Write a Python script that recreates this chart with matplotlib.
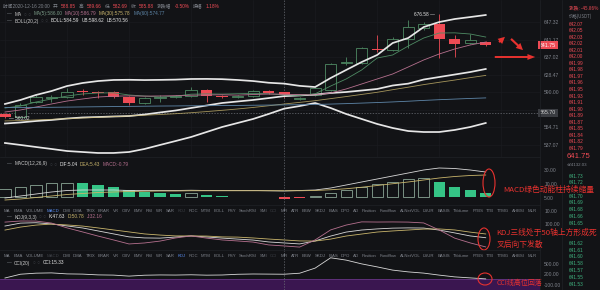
"""
Captura de gráfico de velas estilo exchange (K-line + MACD + KDJ + CCI)
Saída: out.png (600x290)
"""

import numpy as np
import matplotlib.pyplot as plt
from matplotlib.patches import Ellipse, FancyArrowPatch
from matplotlib.transforms import blended_transform_factory

W, H = 600, 290

COR = {
    "fundo":   "#121316",
    "grade":   "#1b1d21",
    "texto":   "#7f838b",
    "apagado": "#3c3f45",
    "verm":    "#ee4b55",
    "verde":   "#4e8a63",
    "verde2":  "#35c486",
    "branco":  "#e6e6e6",
    "amarelo": "#c9b56c",
    "rosa":    "#b5708e",
    "azul":    "#5e86a8",
    "azul_tab": "#5a8dee",
    "anot":    "#e8322f",
    "cci_faixa": "#3a1650",
}

plt.rcParams.update({
    "font.family": ["Liberation Sans", "Noto Sans CJK SC", "DejaVu Sans"],
    "figure.facecolor": COR["fundo"],
    "savefig.facecolor": COR["fundo"],
})

# ── dados (velas) ────────────────────────────────────────────────────────────
OPEN = [564.58, 561.22, 578.02, 582.50, 583.62, 590.34, 589.22, 589.22, 583.62, 576.90,
        582.50, 583.62, 584.74, 591.46, 584.74, 583.62, 584.74, 590.34, 588.85, 581.38,
        585.86, 591.46, 621.70, 621.70, 637.38, 636.26, 648.58, 660.90, 665.38, 648.58,
        644.10, 645.22]
CLOSE = [561.22, 574.66, 583.62, 583.62, 589.22, 589.22, 588.10, 583.62, 576.90, 582.50,
         583.62, 584.74, 591.46, 584.74, 583.62, 584.74, 590.34, 588.10, 585.88, 582.50,
         593.70, 620.58, 622.82, 638.50, 636.26, 648.58, 662.02, 665.38, 648.58, 642.98,
         647.46, 641.75]
HIGH = [565.70, 576.90, 585.86, 585.86, 593.70, 592.58, 589.90, 590.34, 584.74, 583.62,
        585.86, 585.86, 594.82, 592.58, 585.86, 585.86, 591.46, 591.46, 589.66, 583.62,
        594.82, 621.70, 628.42, 639.62, 653.06, 650.82, 669.86, 667.62, 676.58, 653.06,
        654.18, 646.34]
LOW = [560.02, 560.66, 576.90, 578.02, 582.50, 585.86, 582.50, 582.50, 574.66, 575.78,
       578.02, 582.50, 583.62, 578.02, 582.50, 582.50, 583.62, 586.98, 582.69, 580.26,
       584.74, 590.34, 619.46, 620.58, 634.02, 635.14, 638.50, 658.66, 627.30, 627.90,
       643.50, 640.74]

# médias móveis e bandas de Bollinger
MA5 = [571.3, 573.5, 578.0, 581.4, 584.7, 587.0, 588.1, 588.3, 585.9, 584.7, 583.6, 584.5,
       586.8, 587.1, 586.9, 587.3, 587.6, 587.2, 586.0, 585.4, 587.2, 595.9, 603.8, 613.9,
       627.3, 630.7, 640.7, 649.7, 655.3, 655.5, 654.2, 650.8]
MA10 = [566.8, 569.1, 572.4, 575.8, 579.1, 581.4, 583.6, 584.5, 584.9, 584.6, 584.8, 585.1,
        585.6, 585.9, 586.1, 585.7, 586.4, 587.0, 586.79, 586.2, 586.0, 588.1, 592.6, 598.2,
        603.8, 609.4, 617.2, 625.1, 631.8, 637.4, 641.9, 645.2]
MA30 = [556.8, 557.2, 558.0, 558.6, 559.4, 560.1, 560.9, 561.6, 562.4, 563.2, 564.0, 564.9,
        566.0, 567.3, 568.7, 570.2, 571.9, 573.8, 575.78, 577.6, 579.5, 581.8, 584.1, 586.5,
        588.9, 591.8, 594.6, 597.5, 600.1, 602.6, 605.3, 607.8]
MA60 = [571.8, 571.9, 572.0, 572.1, 572.3, 572.5, 572.7, 572.9, 573.1, 573.3, 573.5, 573.6,
        573.8, 573.9, 574.1, 574.2, 574.4, 574.6, 574.77, 575.0, 575.3, 575.7, 576.2, 576.8,
        577.4, 578.1, 578.9, 579.8, 580.6, 581.3, 582.0, 582.6]
BOLL_UB = [575.8, 580.3, 585.9, 590.3, 595.9, 599.3, 601.5, 602.7, 602.9, 602.6, 602.8, 603.1,
           603.8, 603.9, 603.6, 602.7, 601.5, 599.6, 598.62, 596.1, 594.8, 604.9, 613.9, 622.8,
           630.7, 644.1, 649.7, 662.0, 667.6, 671.0, 673.2, 675.5]
BOLL_MID = [553.9, 555.1, 556.7, 557.9, 559.5, 560.7, 561.2, 561.8, 562.3, 564.0, 566.3, 568.5,
            571.3, 574.1, 576.9, 578.6, 580.3, 582.4, 584.59, 585.4, 586.3, 588.1, 589.2, 590.9,
            592.6, 596.5, 598.6, 603.2, 606.0, 608.8, 611.6, 615.0]
BOLL_LB = [532.1, 529.9, 527.6, 525.4, 523.1, 522.0, 520.9, 520.9, 522.0, 525.4, 529.9, 534.3,
           538.8, 544.4, 550.0, 554.5, 559.0, 564.6, 570.56, 573.5, 576.9, 571.3, 564.6, 559.0,
           553.4, 548.9, 545.5, 544.4, 544.4, 546.7, 550.0, 554.5]

# MACD
MACD_HIST = [3.2, 4.0, 4.8, 5.6, 5.8, 5.6, 4.8, 4.0, 2.8, 2.0, 1.6, 1.2, 1.6, 0.8, 0.4, 0.2,
             0.16, 0.12, -0.8, -0.4, 0.4, 1.6, 2.8, 4.0, 5.2, 6.0, 7.2, 7.6, 6.0, 4.0, 2.8, 1.6]
MACD_DIF = [-0.4, 0.4, 1.2, 2.0, 2.6, 2.8, 2.8, 2.8, 2.6, 2.6, 2.6, 2.6, 2.7, 2.6, 2.6, 2.6,
            2.6, 2.5, 2.4, 2.6, 2.8, 3.6, 4.8, 6.0, 7.2, 8.4, 9.6, 10.8, 11.6, 11.4, 10.8, 10.0]
MACD_DEA = [-1.2, -0.8, -0.2, 0.4, 1.0, 1.4, 1.8, 2.0, 2.2, 2.3, 2.4, 2.4, 2.5, 2.5, 2.5, 2.5,
            2.5, 2.5, 2.5, 2.5, 2.6, 2.9, 3.3, 3.9, 4.6, 5.3, 6.0, 6.8, 7.6, 8.2, 8.6, 8.8]

# KDJ
KDJ_K = [86.5, 96.2, 97.5, 93.4, 86.8, 80.1, 70.2, 60.3, 50.4, 46.9, 46.2, 49.8, 53.6, 50.1,
         46.4, 43.0, 39.8, 33.5, 30.2, 26.9, 36.8, 53.1, 66.4, 73.2, 76.9, 79.5, 80.3, 79.8,
         73.0, 63.6, 53.5, 47.6]
KDJ_D = [73.1, 83.0, 89.6, 93.0, 90.1, 86.4, 80.2, 73.5, 66.9, 60.2, 56.4, 53.6, 53.5, 53.1,
         50.3, 49.6, 46.8, 43.2, 40.1, 36.9, 36.5, 43.0, 53.2, 59.8, 66.5, 70.1, 73.2, 76.3,
         76.8, 73.4, 66.2, 60.1]
KDJ_J = [99.6, 103.2, 103.0, 96.4, 80.4, 66.9, 53.1, 40.2, 26.8, 30.1, 36.4, 46.8, 53.5, 46.3,
         40.2, 36.8, 33.1, 23.6, 20.2, 16.4, 40.3, 73.6, 89.7, 100.3, 99.8, 100.1, 99.6, 96.8,
         73.4, 46.2, 30.3, 16.9]

# CCI
CCI = [118, 186, 205, 210, 192, 188, 174, 170, 152, 168, 173, 171, 176, 169, 172, 185, 190,
       188, 186, 204, 296, 482, 440, 372, 318, 260, 228, 206, 170, 138, 120, 102]

CROSS_I = 18          # vela sob a mira
CROSS_PRICE = 565.70

# rótulos de eixo (como aparecem na captura)
MAIN_TICKS = ["647.32", "641.17", "637.02", "628.47", "590.00", "", "554.71", "537.07"]
MACD_TICKS = ["30.00", "10.00", "5.00"]
KDJ_TICKS = ["10.00", "100.00"]
CCI_TICKS = ["500.00", "200.00", "-100.00"]

MACD_HEAD = ["DIF:5.04", "DEA:5.43", "MACD:-0.79"]
KDJ_HEAD = ["K:47.63", "D:50.78", "J:32.16"]
CCI_HEAD = ["CCI:15.33"]

TAB_NAMES = ["MA", "EMA", "VOLUME", "MACD", "DMI", "DMA", "TRIX", "BRAR", "VR", "OBV", "EMV",
             "RSI", "WR", "SAR", "KDJ", "ROC", "MTM", "BOLL", "PSY", "StochRSI", "SMI", "CCI",
             "MFI", "ATR", "BBW", "SKDJ", "BIAS", "DPO", "AO", "Position", "Fundflow",
             "AI-NetVOL", "LSUR", "BASIS", "TVolume", "FTBS", "TTB", "TTMG", "AHBSI", "MLR"]

# livro de ofertas
ASKS = ["642.07", "642.05", "642.03", "642.02", "642.01", "642.00", "641.99", "641.98",
        "641.97", "641.96", "641.95", "641.93", "641.91", "641.90", "641.89", "641.87",
        "641.85", "641.84", "641.82", "641.79"]
BIDS = ["641.73", "641.72", "641.71", "641.70", "641.69", "641.68", "641.66", "641.65",
        "641.64", "641.63", "641.62", "641.61", "641.60", "641.58", "641.57", "641.55",
        "641.53"]
LAST_PRICE = "641.75"
LAST_CNY = "≈¥4132.03"
CHANGE = "-45.86%"

NOTE_MACD = "MACD绿色动能柱持续缩量"
NOTE_KDJ = ["KDJ三线处于50轴上方形成死", "叉后向下发散"]
NOTE_CCI = "CCI线高位回落"

CJK = ["Noto Sans CJK SC", "DejaVu Sans"]


fig = plt.figure(figsize=(W / 100, H / 100), dpi=100)
renderer = fig.canvas.get_renderer()


def fx(x):
    return x / W


def fy(y):
    return 1 - y / H


def px_axes(x0, y0, x1, y1):
    ax = fig.add_axes([fx(x0), fy(y1), (x1 - x0) / W, (y1 - y0) / H])
    ax.set_facecolor("none")
    for s in ax.spines.values():
        s.set_visible(False)
    ax.yaxis.tick_right()
    ax.tick_params(axis="y", length=0, labelsize=3.6, labelcolor=COR["texto"], pad=3)
    ax.tick_params(axis="x", length=0, labelbottom=False)
    return ax


def text_row(y, parts, x0, gap=2.5, size=3.4):
    x = x0
    for s, c in parts:
        t = fig.text(fx(x), fy(y), s, color=c, fontsize=size, va="center", ha="left")
        x += t.get_window_extent(renderer).width + gap


def tab_bar(y, ativo, apagados):
    x0, x1 = 4, 537
    textos = []
    for nome in TAB_NAMES:
        c = COR["azul_tab"] if nome == ativo else (COR["apagado"] if nome in apagados else COR["texto"])
        textos.append(fig.text(0, fy(y), nome, color=c, fontsize=3.1, va="center", ha="left"))
    larg = [t.get_window_extent(renderer).width for t in textos]
    gap = (x1 - x0 - sum(larg)) / (len(textos) - 1)
    x = x0
    for t, w in zip(textos, larg):
        t.set_x(fx(x))
        x += w + gap


idx = np.arange(len(OPEN))
XLIM = (-0.32, 34.5)

# ── 1. painel principal ─────────────────────────────────────────────────────
ax = px_axes(0, 0, 540, 157)
ax.set_xlim(*XLIM)
ax.set_ylim(516.4, 692.3)
ax.set_xticks(np.arange(0, 34, 4))
ax.grid(True, color=COR["grade"], lw=0.4)
ax.set_axisbelow(True)

o, c, h, l = map(np.array, (OPEN, CLOSE, HIGH, LOW))
alta = c >= o
cores = np.where(alta, COR["verde"], COR["verm"])
ax.vlines(idx, l, h, colors=cores, lw=0.6, zorder=2)
base = np.minimum(o, c)
alt = np.maximum(np.abs(c - o), 0.4)
ax.bar(idx[alta], alt[alta], bottom=base[alta], width=0.72, facecolor=COR["fundo"],
       edgecolor=COR["verde"], lw=0.6, zorder=3)
ax.bar(idx[~alta], alt[~alta], bottom=base[~alta], width=0.72, color=COR["verm"],
       lw=0, zorder=3)

for serie in (BOLL_UB, BOLL_MID, BOLL_LB):
    ax.plot(idx, serie, color=COR["branco"], lw=1.25, zorder=4)
ax.plot(idx, MA5, color=COR["verde"], lw=0.6, zorder=4)
ax.plot(idx, MA10, color=COR["rosa"], lw=0.6, zorder=4)
ax.plot(idx, MA30, color=COR["amarelo"], lw=0.6, alpha=0.8, zorder=4)
ax.plot(idx, MA60, color=COR["azul"], lw=0.6, zorder=4)

imax, imin = int(np.argmax(h)), int(np.argmin(l))
ax.annotate(f"{h[imax]:.2f} —", xy=(imax, h[imax]), xytext=(-3, 0),
            textcoords="offset points", ha="right", va="center",
            fontsize=3.4, color=COR["branco"])
ax.annotate(f"— {l[imin]:.2f}", xy=(imin, l[imin]), xytext=(3, 0),
            textcoords="offset points", ha="left", va="center",
            fontsize=3.4, color=COR["branco"])

ax.axhline(CROSS_PRICE, color="#6b6e75", lw=0.5, ls=(0, (2, 2)))
ticks = np.linspace(667.6, 529.9, len(MAIN_TICKS))
ax.set_yticks(ticks)
ax.set_yticklabels(MAIN_TICKS)

tr = blended_transform_factory(ax.transAxes, ax.transData)
ax.text(1.0, CLOSE[-1], f"{CLOSE[-1]:.2f}", transform=tr, ha="left", va="center",
        fontsize=3.8, color="white",
        bbox=dict(boxstyle="square,pad=0.35", fc=COR["verm"], ec="none"))
ax.text(1.0, CROSS_PRICE, f"{CROSS_PRICE:.2f}", transform=tr, ha="left", va="center",
        fontsize=3.8, color="#d0d0d0",
        bbox=dict(boxstyle="square,pad=0.35", fc="#3a3c41", ec="none"))

# ── 2. MACD ─────────────────────────────────────────────────────────────────
axm = px_axes(0, 157, 540, 205)
axm.set_xlim(*XLIM)
axm.set_ylim(-3.2, 16)
hist = np.array(MACD_HIST)
cresce = np.r_[True, np.abs(hist[1:]) >= np.abs(hist[:-1])]
pos = hist >= 0
oco = pos & cresce
cheio = pos & ~cresce
axm.bar(idx[oco], hist[oco], width=0.72, facecolor=COR["fundo"], edgecolor="#8aa595", lw=0.6)
axm.bar(idx[cheio], hist[cheio], width=0.72, color=COR["verde2"], lw=0)
axm.bar(idx[~pos], hist[~pos], width=0.72, color=COR["verm"], lw=0)
axm.plot(idx, MACD_DIF, color="#d8d8d8", lw=0.6)
axm.plot(idx, MACD_DEA, color=COR["amarelo"], lw=0.6)
axm.set_yticks(np.linspace(10.8, -0.4, len(MACD_TICKS)))
axm.set_yticklabels(MACD_TICKS)

# ── 3. KDJ ──────────────────────────────────────────────────────────────────
axk = px_axes(0, 205, 540, 250)
axk.set_xlim(*XLIM)
axk.set_ylim(6.7, 156.5)
axk.plot(idx, KDJ_K, color="#d8d8d8", lw=0.6)
axk.plot(idx, KDJ_D, color=COR["amarelo"], lw=0.6)
axk.plot(idx, KDJ_J, color=COR["rosa"], lw=0.6)
axk.set_yticks(np.linspace(136, 94, len(KDJ_TICKS)))
axk.set_yticklabels(KDJ_TICKS)

# ── 4. CCI ──────────────────────────────────────────────────────────────────
axc = px_axes(0, 250, 540, 290)
axc.set_xlim(*XLIM)
axc.set_ylim(-98, 622)
axc.axhspan(-100, 100, color=COR["cci_faixa"], lw=0)
axc.axhline(100, color="#6d3a8a", lw=0.5)
axc.plot(idx, CCI, color="#d8d8d8", lw=0.6)
axc.set_yticks(np.linspace(370, 0, len(CCI_TICKS)))
axc.set_yticklabels(CCI_TICKS)

for a in (ax, axm, axk, axc):
    a.axvline(CROSS_I, color="#6b6e75", lw=0.5, ls=(0, (2, 2)))

# divisórias
for yy in (157, 205, 250):
    fig.add_artist(plt.Line2D([0, fx(540)], [fy(yy)] * 2, color="#202226", lw=0.5))
for xx in (540, 562):
    fig.add_artist(plt.Line2D([fx(xx)] * 2, [0, 1], color="#202226", lw=0.5))

# ── cabeçalhos ──────────────────────────────────────────────────────────────
ci = CROSS_I
text_row(6, [("时间2020-12-16 20:00", COR["texto"]),
             ("开", COR["texto"]), (f"{OPEN[ci]:.2f}", COR["verm"]),
             ("高", COR["texto"]), (f"{HIGH[ci]:.2f}", COR["verm"]),
             ("低", COR["texto"]), (f"{LOW[ci]:.2f}", COR["verm"]),
             ("收", COR["texto"]), (f"{CLOSE[ci]:.2f}", COR["verm"]),
             ("涨跌幅", COR["texto"]), ("-0.50%", COR["verm"]),
             ("振幅", COR["texto"]),
             (f"{(HIGH[ci] - LOW[ci]) / OPEN[ci] * 100:.2f}%", COR["verm"])], 3, gap=3.2)
text_row(14, [("—", COR["texto"]), ("MA", "#c8c8c8"), ("○ ○", COR["apagado"]),
              (f"MA(5):{MA5[ci]:.2f}", "#7a9a86"),
              (f"MA(10):{MA10[ci]:.2f}", COR["rosa"]),
              (f"MA(30):{MA30[ci]:.2f}", COR["amarelo"]),
              (f"MA(60):{MA60[ci]:.2f}", COR["azul"])], 7)
text_row(21, [("—", COR["texto"]), ("BOLL(20,2)", "#c8c8c8"), ("○ ○", COR["apagado"]),
              (f"BOLL:{BOLL_MID[ci]:.2f}", COR["branco"]),
              (f"UB:{BOLL_UB[ci]:.2f}", COR["branco"]),
              (f"LB:{BOLL_LB[ci]:.2f}", COR["branco"])], 7)
text_row(164, [("—", COR["texto"]), ("MACD(12,26,9)", "#c8c8c8"), ("○ ○", COR["apagado"]),
               (MACD_HEAD[0], COR["branco"]), (MACD_HEAD[1], COR["amarelo"]),
               (MACD_HEAD[2], COR["rosa"])], 7)
text_row(217, [("—", COR["texto"]), ("KDJ(9,3,3)", "#c8c8c8"), ("○ ○", COR["apagado"]),
               (KDJ_HEAD[0], COR["branco"]), (KDJ_HEAD[1], COR["amarelo"]),
               (KDJ_HEAD[2], COR["rosa"])], 7)
text_row(263, [("—", COR["texto"]), ("CCI(20)", "#c8c8c8"), ("○ ○", COR["apagado"]),
               (CCI_HEAD[0], COR["branco"])], 7)

tab_bar(211, "MACD", ("KDJ", "CCI"))
tab_bar(256, "KDJ", ("MACD", "CCI"))

# ── anotações em vermelho (por cima do livro de ofertas) ────────────────────
NOTE_Y = {"macd": 190, "kdj1": 233, "kdj2": 245, "cci": 283}
for cx, cy, ew, eh in ((489, 183, 12, 28), (484, 239, 12, 22), (485, 279, 14, 12)):
    fig.add_artist(Ellipse((fx(cx), fy(cy)), ew / W, eh / H, transform=fig.transFigure,
                           fill=False, ec=COR["anot"], lw=0.8))
fig.text(fx(503), fy(NOTE_Y["macd"]), NOTE_MACD, color=COR["anot"], fontsize=5.6,
         va="center", family=CJK, zorder=10)
fig.text(fx(496), fy(NOTE_Y["kdj1"]), NOTE_KDJ[0], color=COR["anot"], fontsize=5.6,
         va="center", family=CJK, zorder=10)
fig.text(fx(497), fy(NOTE_Y["kdj2"]), NOTE_KDJ[1], color=COR["anot"], fontsize=5.6,
         va="center", family=CJK, zorder=10)
fig.text(fx(497), fy(NOTE_Y["cci"]), NOTE_CCI, color=COR["anot"], fontsize=5.0,
         va="center", family=CJK, zorder=10)

for (x0, y0), (x1, y1), est in (
        ((497, 44), (507, 35), "simple,head_length=0.7,head_width=0.7,tail_width=0.22"),
        ((509, 37), (525, 52), "simple,head_length=0.7,head_width=0.7,tail_width=0.22"),
        ((492, 57), (538, 57), "simple,head_length=0.8,head_width=0.6,tail_width=0.2")):
    fig.add_artist(FancyArrowPatch((fx(x0), fy(y0)), (fx(x1), fy(y1)),
                                   transform=fig.transFigure, arrowstyle=est,
                                   mutation_scale=7, color=COR["anot"], lw=0))

# ── livro de ofertas ────────────────────────────────────────────────────────
fig.text(fx(569), fy(8), f"涨跌: {CHANGE}", color=COR["verm"], fontsize=3.4,
         va="center", family=CJK)
fig.text(fx(569), fy(16), "价格(USDT)", color=COR["texto"], fontsize=3.2,
         va="center", family=CJK)
for k, s in enumerate(ASKS):
    fig.text(fx(569), fy(24 + k * 6.55), s, color=COR["verm"], fontsize=3.4, va="center")
fig.text(fx(567), fy(157), LAST_PRICE, color=COR["verm"], fontsize=5.6, va="center")
fig.text(fx(567), fy(164.5), LAST_CNY, color=COR["texto"], fontsize=3.2, va="center")
cobertas = (NOTE_Y["macd"], NOTE_Y["kdj1"])   # linhas escondidas sob as notas longas
for k, s in enumerate(BIDS):
    yy = 176 + k * 6.75
    if min(abs(yy - cy) for cy in cobertas) < 4:
        continue
    fig.text(fx(569), fy(yy), s, color="#3fb27f", fontsize=3.4, va="center")

fig.savefig("out.png", dpi=100)
